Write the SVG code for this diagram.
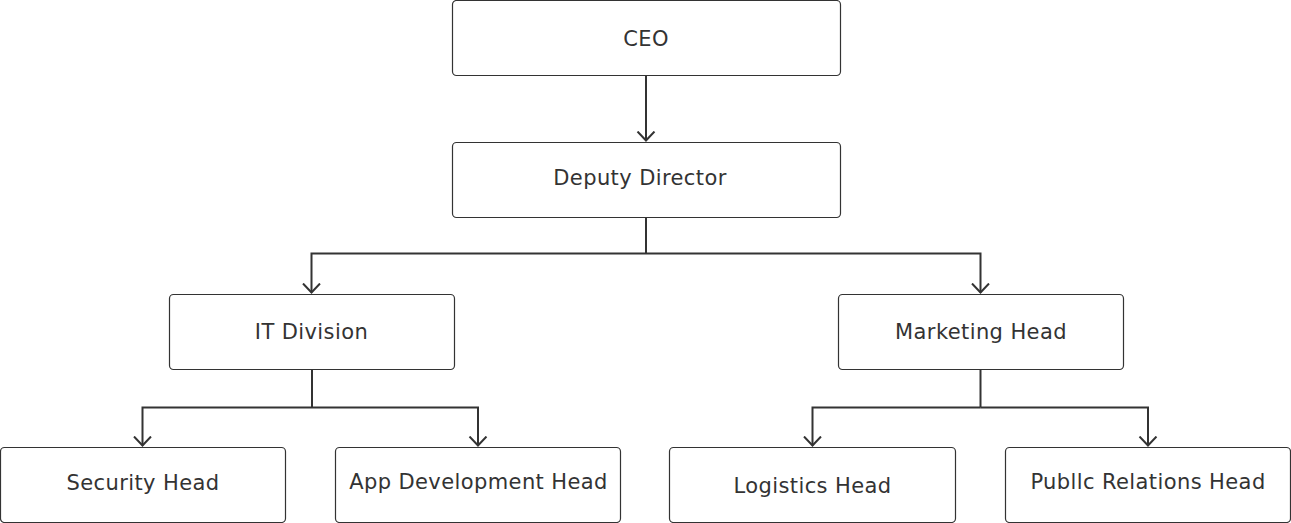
<svg xmlns="http://www.w3.org/2000/svg" width="1291" height="523" viewBox="0 0 1291 523">
<style>
.box{fill:#ffffff;stroke:#333333;stroke-width:1.2}
.lbl{font-family:"DejaVu Sans","Liberation Sans",sans-serif;font-size:21px;fill:#333333;text-anchor:middle;letter-spacing:0.4px}
.edge{fill:none;stroke:#333333;stroke-width:2;marker-end:url(#arr)}
.trunk{fill:none;stroke:#333333;stroke-width:2}
</style>
<defs>
<marker id="arr" markerWidth="12" markerHeight="20" viewBox="0 0 12 20" refX="10" refY="10" orient="auto" markerUnits="userSpaceOnUse">
<path d="M1,1.5 L10,10 L1,18.5" fill="none" stroke="#333333" stroke-width="2"/>
</marker>
</defs>
<rect width="1291" height="523" fill="#ffffff"/>
<g id="connectors">
<path class="edge" d="M646,75.5 V140.5"/>
<path class="trunk" d="M646,217.5 V253.5"/>
<path class="edge" d="M646,253.5 H311.5 V292.5"/>
<path class="edge" d="M646,253.5 H980.5 V292.5"/>
<path class="trunk" d="M312,369.5 V407.5"/>
<path class="edge" d="M312,407.5 H142.5 V445.5"/>
<path class="edge" d="M312,407.5 H478 V445.5"/>
<path class="trunk" d="M980.5,369.5 V407.5"/>
<path class="edge" d="M980.5,407.5 H812.5 V445.5"/>
<path class="edge" d="M980.5,407.5 H1148 V445.5"/>
</g>
<g id="ceo"><rect class="box" x="452.5" y="0.5" width="388" height="75" rx="4"/><text class="lbl" x="646" y="46">CEO</text></g>
<g id="deputy"><rect class="box" x="452.5" y="142.5" width="388" height="75" rx="4"/><text class="lbl" x="640" y="185">Deputy Director</text></g>
<g id="it"><rect class="box" x="169.5" y="294.5" width="285" height="75" rx="4"/><text class="lbl" x="311.5" y="339">IT Division</text></g>
<g id="marketing"><rect class="box" x="838.5" y="294.5" width="285" height="75" rx="4"/><text class="lbl" x="981" y="339">Marketing Head</text></g>
<g id="security"><rect class="box" x="0.5" y="447.5" width="285" height="75" rx="4"/><text class="lbl" x="143" y="490">Security Head</text></g>
<g id="appdev"><rect class="box" x="335.5" y="447.5" width="285" height="75" rx="4"/><text class="lbl" x="478.5" y="489">App Development Head</text></g>
<g id="logistics"><rect class="box" x="669.5" y="447.5" width="286" height="75" rx="4"/><text class="lbl" x="812.5" y="493">Logistics Head</text></g>
<g id="pr"><rect class="box" x="1005.5" y="447.5" width="285" height="75" rx="4"/><text class="lbl" x="1148" y="489">Publlc Relations Head</text></g>
</svg>
